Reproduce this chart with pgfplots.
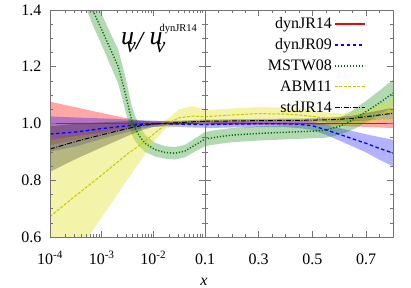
\documentclass[border=0pt]{standalone}
\usepackage{fontspec}
\setmainfont{Liberation Serif}
\usepackage{pgfplots}
\pgfplotsset{compat=1.18}
\usepackage{pgfplotstable}
\usepgfplotslibrary{fillbetween}

\definecolor{bandgreen}{RGB}{0,128,0}
\definecolor{linegreen}{RGB}{0,110,0}
\definecolor{ylwband}{RGB}{225,225,40}
\definecolor{ylwline}{RGB}{200,200,0}

\pgfplotstableread{
x r rl rh b bl bh a al ah k kl kh
1e-4 1.0 0.923 1.077 0.963 0.901 1.025 0.672 0.403 0.941 0.910 0.830 0.990
3.162e-4 1.0 0.943 1.057 0.970 0.919 1.021 0.746 0.536 0.956 0.937 0.875 0.999
1e-3 1.0 0.963 1.037 0.982 0.946 1.018 0.818 0.669 0.967 0.960 0.916 1.004
3.162e-3 1.0 0.982 1.018 0.992 0.970 1.014 0.893 0.802 0.984 0.982 0.956 1.008
5.623e-3 1.0 0.990 1.010 0.997 0.982 1.012 0.925 0.868 0.982 0.992 0.975 1.009
1e-2 1.0 0.994 1.006 0.999 0.988 1.010 0.962 0.935 0.989 0.998 0.988 1.008
1.778e-2 1.0 0.995 1.005 0.999 0.989 1.009 0.998 0.984 1.012 1.001 0.993 1.009
3.162e-2 1.0 0.995 1.005 0.998 0.988 1.008 1.020 0.990 1.050 1.003 0.996 1.010
5.623e-2 1.0 0.995 1.005 0.997 0.986 1.008 1.026 0.990 1.062 1.006 1.000 1.012
1e-1 1.0 0.995 1.005 0.997 0.985 1.009 1.024 1.000 1.048 1.008 1.002 1.014
}\LeftT

\pgfplotstableread{
x g gl gh
1.585e-4 1.75 1.70 1.80
3.162e-4 1.55 1.497 1.603
6.699e-4 1.40 1.348 1.452
1.159e-3 1.305 1.250 1.360
2.099e-3 1.200 1.140 1.260
2.831e-3 1.110 1.050 1.170
3.811e-3 1.012 0.962 1.062
4.416e-3 0.983 0.939 1.027
5.521e-3 0.953 0.917 0.989
6.902e-3 0.930 0.900 0.960
1.076e-2 0.908 0.884 0.932
1.683e-2 0.898 0.876 0.920
2.624e-2 0.895 0.873 0.917
4.102e-2 0.903 0.881 0.925
6.397e-2 0.924 0.901 0.947
1e-1 0.945 0.920 0.970
}\LeftG

\pgfplotstableread{
x r rl rh b bl bh g gl gh a al ah k kl kh
0.10 1 0.995 1.005 0.997 0.985 1.009 0.945 0.920 0.970 1.024 1.001 1.047 1.008 1.002 1.014
0.15 1 0.995 1.005 0.997 0.985 1.009 0.953 0.928 0.978 1.027 1.004 1.050 1.008 1.002 1.014
0.20 1 0.995 1.005 0.998 0.986 1.010 0.959 0.934 0.984 1.030 1.007 1.053 1.009 1.003 1.015
0.30 1 0.995 1.005 0.999 0.987 1.011 0.965 0.940 0.990 1.035 1.012 1.058 1.010 1.004 1.016
0.40 1 0.995 1.005 0.999 0.987 1.011 0.969 0.944 0.994 1.033 1.010 1.056 1.011 1.005 1.017
0.45 1 0.995 1.005 0.997 0.984 1.010 0.971 0.946 0.996 1.030 1.008 1.052 1.011 1.005 1.017
0.50 1 0.995 1.005 0.992 0.977 1.007 0.973 0.948 0.998 1.025 1.004 1.046 1.012 1.006 1.018
0.55 1 0.994 1.006 0.978 0.960 0.996 0.977 0.950 1.004 1.019 0.999 1.039 1.013 1.006 1.020
0.60 1 0.992 1.008 0.962 0.940 0.984 0.990 0.960 1.020 1.015 0.995 1.035 1.015 1.007 1.023
0.65 1 0.990 1.010 0.946 0.919 0.973 1.012 0.978 1.046 1.016 0.994 1.038 1.018 1.008 1.028
0.70 1 0.988 1.012 0.930 0.898 0.962 1.042 1.004 1.080 1.024 0.998 1.050 1.024 1.011 1.037
0.75 1 0.986 1.014 0.912 0.872 0.952 1.073 1.030 1.116 1.035 1.005 1.065 1.030 1.014 1.046
0.80 1 0.984 1.016 0.896 0.849 0.943 1.107 1.060 1.154 1.048 1.013 1.083 1.036 1.016 1.056
}\RightT

\pgfplotsset{
  myax/.style={scale only axis, height=227pt, anchor=south west,
    ymin=0.6, ymax=1.4, ytick={0.6,0.8,1.0,1.2,1.4}, minor y tick num=3,
    tick align=inside, axis on top,
    axis line style={draw=black!55, line width=0.6pt},
    every tick/.style={black!55, line width=0.6pt},
    major tick length=6pt, minor tick length=3pt,
    ticklabel style={font=\fontsize{16}{16}\selectfont},
    xticklabel style={anchor=base, yshift=-28pt},
  },
  rline/.style={red, line width=1.4pt},
  bline/.style={blue, line width=1.3pt, dash pattern=on 3.5pt off 2.5pt},
  gline/.style={linegreen, line width=1.4pt, dash pattern=on 1.2pt off 1.8pt},
  yline/.style={ylwline, line width=1pt, dash pattern=on 3pt off 1.5pt},
  kline/.style={black, line width=1pt, dash pattern=on 5pt off 1.5pt on 1pt off 1.5pt},
}

\begin{document}
\begin{tikzpicture}

% ---------- left (log) part ----------
\begin{axis}[myax, at={(50pt,51pt)}, width=155pt,
  xmode=log, xmin=1e-4, xmax=0.1,
  xtick={1e-4,1e-3,1e-2},
  xticklabels={10\textsuperscript{-4},10\textsuperscript{-3},10\textsuperscript{-2}},
  minor xtick={2e-4,3e-4,4e-4,5e-4,6e-4,7e-4,8e-4,9e-4,2e-3,3e-3,4e-3,5e-3,6e-3,7e-3,8e-3,9e-3,2e-2,3e-2,4e-2,5e-2,6e-2,7e-2,8e-2,9e-2},
  yticklabels={0.6,0.8,1.0,1.2,1.4},
  yticklabel style={anchor=east, xshift=-5pt},
]
\addplot[name path=rl, draw=none, forget plot] table[x=x,y=rl]{\LeftT};
\addplot[name path=rh, draw=none, forget plot] table[x=x,y=rh]{\LeftT};
\addplot[red, fill opacity=0.35, draw=none, forget plot] fill between[of=rl and rh];
\addplot[name path=bl, draw=none, forget plot] table[x=x,y=bl]{\LeftT};
\addplot[name path=bh, draw=none, forget plot] table[x=x,y=bh]{\LeftT};
\addplot[blue, fill opacity=0.3, draw=none, forget plot] fill between[of=bl and bh];
\addplot[name path=gl, draw=none, forget plot] table[x=x,y=gl]{\LeftG};
\addplot[name path=gh, draw=none, forget plot] table[x=x,y=gh]{\LeftG};
\addplot[bandgreen, fill opacity=0.3, draw=none, forget plot] fill between[of=gl and gh];
\addplot[name path=al, draw=none, forget plot] table[x=x,y=al]{\LeftT};
\addplot[name path=ah, draw=none, forget plot] table[x=x,y=ah]{\LeftT};
\addplot[ylwband, fill opacity=0.4, draw=none, forget plot] fill between[of=al and ah];
\addplot[name path=kl, draw=none, forget plot] table[x=x,y=kl]{\LeftT};
\addplot[name path=kh, draw=none, forget plot] table[x=x,y=kh]{\LeftT};
\addplot[black, fill opacity=0.25, draw=none, forget plot] fill between[of=kl and kh];
\addplot[rline] table[x=x,y=r]{\LeftT};
\addplot[bline] table[x=x,y=b]{\LeftT};
\addplot[gline] table[x=x,y=g]{\LeftG};
\addplot[yline] table[x=x,y=a]{\LeftT};
\addplot[kline] table[x=x,y=k]{\LeftT};
\end{axis}

% ---------- right (linear) part ----------
\begin{axis}[myax, at={(205pt,51pt)}, width=188pt,
  xmin=0.1, xmax=0.8,
  xtick={0.1,0.3,0.5,0.7}, xticklabels={0.1,0.3,0.5,0.7},
  minor xtick={0.15,0.2,0.25,0.35,0.4,0.45,0.55,0.6,0.65,0.75},
  yticklabels={},
  legend plot pos=right,
  legend cell align=right,
  legend image code/.code={\draw[#1] (7pt,0pt) -- (37pt,0pt);},
  legend style={at={(0.87,0.985)}, anchor=north east, draw=none, fill=none,
    font=\fontsize{16}{16}\selectfont, row sep=4.5pt},
]
\addplot[name path=rl, draw=none, forget plot] table[x=x,y=rl]{\RightT};
\addplot[name path=rh, draw=none, forget plot] table[x=x,y=rh]{\RightT};
\addplot[red, fill opacity=0.35, draw=none, forget plot] fill between[of=rl and rh];
\addplot[name path=bl, draw=none, forget plot] table[x=x,y=bl]{\RightT};
\addplot[name path=bh, draw=none, forget plot] table[x=x,y=bh]{\RightT};
\addplot[blue, fill opacity=0.3, draw=none, forget plot] fill between[of=bl and bh];
\addplot[name path=gl, draw=none, forget plot] table[x=x,y=gl]{\RightT};
\addplot[name path=gh, draw=none, forget plot] table[x=x,y=gh]{\RightT};
\addplot[bandgreen, fill opacity=0.3, draw=none, forget plot] fill between[of=gl and gh];
\addplot[name path=al, draw=none, forget plot] table[x=x,y=al]{\RightT};
\addplot[name path=ah, draw=none, forget plot] table[x=x,y=ah]{\RightT};
\addplot[ylwband, fill opacity=0.4, draw=none, forget plot] fill between[of=al and ah];
\addplot[name path=kl, draw=none, forget plot] table[x=x,y=kl]{\RightT};
\addplot[name path=kh, draw=none, forget plot] table[x=x,y=kh]{\RightT};
\addplot[black, fill opacity=0.25, draw=none, forget plot] fill between[of=kl and kh];
\addplot[rline] table[x=x,y=r]{\RightT};
\addlegendentry{dynJR14}
\addplot[bline] table[x=x,y=b]{\RightT};
\addlegendentry{dynJR09}
\addplot[gline] table[x=x,y=g]{\RightT};
\addlegendentry{MSTW08}
\addplot[yline] table[x=x,y=a]{\RightT};
\addlegendentry{ABM11}
\addplot[kline] table[x=x,y=k]{\RightT};
\addlegendentry{stdJR14}
\draw[black, line width=0.9pt] (rel axis cs:0,0) -- (rel axis cs:0,1);
\end{axis}

% ---------- texts ----------
\node[anchor=base west, inner sep=0pt] at (121pt,243pt) {\fontsize{26}{26}\selectfont\itshape
  u\kern-8pt\raisebox{-8pt}{\fontsize{22}{22}\selectfont v}\kern0pt\raisebox{-5pt}{/}\kern6.5pt u\kern-7pt\raisebox{-8pt}{\fontsize{22}{22}\selectfont v}\kern-5.8pt\raisebox{13pt}{\upshape\fontsize{10.5}{10.5}\selectfont dynJR14}};
\node[anchor=base, inner sep=0pt] at (204pt,2pt) {\fontsize{16}{16}\selectfont\itshape x};

\pgfresetboundingbox
\path[use as bounding box] (0pt,0pt) rectangle (411pt,288pt);
\end{tikzpicture}
\end{document}
